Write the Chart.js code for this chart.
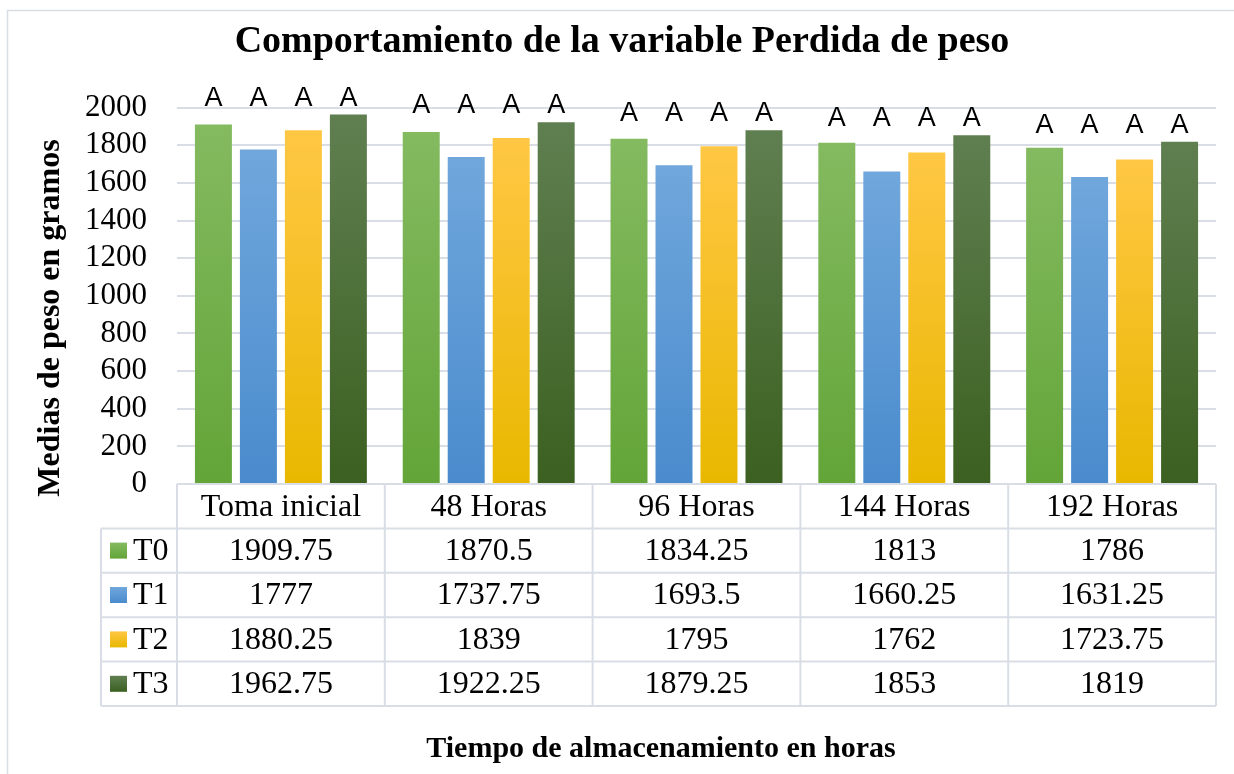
<!DOCTYPE html>
<html>
<head>
<meta charset="utf-8">
<script src="https://cdn.jsdelivr.net/npm/chart.js@4.4.0/dist/chart.umd.min.js"></script>
<style>
html,body{margin:0;padding:0;background:#fff;}
#wrap{width:1234px;height:774px;position:relative;}
</style>
</head>
<body>
<div id="wrap"><canvas id="c" width="1234" height="774"></canvas></div>
<script>
// ---- data ----
const categories = ['Toma inicial', '48 Horas', '96 Horas', '144 Horas', '192 Horas'];
const seriesNames = ['T0', 'T1', 'T2', 'T3'];
const T0 = [1909.75, 1870.5, 1834.25, 1813, 1786];
const T1 = [1777, 1737.75, 1693.5, 1660.25, 1631.25];
const T2 = [1880.25, 1839, 1795, 1762, 1723.75];
const T3 = [1962.75, 1922.25, 1879.25, 1853, 1819];
const groupLetters = [
  ['A', 'A', 'A', 'A'],
  ['A', 'A', 'A', 'A'],
  ['A', 'A', 'A', 'A'],
  ['A', 'A', 'A', 'A'],
  ['A', 'A', 'A', 'A']
];
const yMin = 0, yMax = 2000, yStep = 200;
const chartTitle = 'Comportamiento de la variable Perdida de peso';
const yTitle = 'Medias de peso en gramos';
const xTitle = 'Tiempo de almacenamiento en horas';

// ---- styles ----
const SERIF = '"Liberation Serif", "Times New Roman", serif';
const SANS = '"Liberation Sans", Arial, sans-serif';
const gradStops = [
  ['#84ba60', '#63a538'],
  ['#70a7dc', '#4a8bcd'],
  ['#ffc744', '#e8b800'],
  ['#607f51', '#3b6020']
];
const lineColor = '#d9dee6';

function barGradient(top, bottom) {
  return (c) => {
    const chart = c.chart;
    const ys = chart.scales && chart.scales.y;
    if (!ys || c.type !== 'data' || !chart.chartArea) return bottom;
    const yTop = ys.getPixelForValue(c.raw);
    const yBase = ys.getPixelForValue(0);
    if (!isFinite(yTop) || !isFinite(yBase)) return bottom;
    const g = chart.ctx.createLinearGradient(0, yTop, 0, yBase);
    g.addColorStop(0, top);
    g.addColorStop(1, bottom);
    return g;
  };
}

const seriesValues = [T0, T1, T2, T3];

const tablePlugin = {
  id: 'tablePlugin',
  beforeDraw(chart) {
    const ctx = chart.ctx;
    ctx.save();
    ctx.fillStyle = '#fff';
    ctx.fillRect(0, 0, chart.width, chart.height);
    ctx.strokeStyle = lineColor;
    ctx.lineWidth = 1.5;
    ctx.strokeRect(7.5, 10.5, chart.width + 20, chart.height + 20);
    ctx.restore();
  },
  afterDraw(chart) {
    const ctx = chart.ctx;
    const xs = chart.scales.x, ys = chart.scales.y;
    const area = chart.chartArea;
    const n = categories.length;
    const colW = (area.right - area.left) / n;

    // significance letters above each group
    ctx.save();
    ctx.font = '27px ' + SANS;
    ctx.fillStyle = '#000';
    ctx.textAlign = 'center';
    ctx.textBaseline = 'alphabetic';
    for (let i = 0; i < n; i++) {
      let mx = -Infinity;
      seriesValues.forEach(s => { mx = Math.max(mx, s[i]); });
      const yLab = ys.getPixelForValue(mx) - 9;
      chart.data.datasets.forEach((ds, d) => {
        const el = chart.getDatasetMeta(d).data[i];
        ctx.fillText(groupLetters[i][d], el.x, yLab);
      });
    }
    ctx.restore();

    // data table
    const rowH = 44.4;
    const top = area.bottom;
    const legendLeft = 101;
    const rows = seriesNames.length;
    const bottom = top + rowH * (rows + 1);
    ctx.save();
    ctx.strokeStyle = lineColor;
    ctx.lineWidth = 2;
    ctx.beginPath();
    for (let r = 1; r <= rows + 1; r++) {
      const y = top + r * rowH;
      ctx.moveTo(legendLeft, y);
      ctx.lineTo(area.right, y);
    }
    for (let i = 0; i <= n; i++) {
      const x = area.left + i * colW;
      ctx.moveTo(x, top);
      ctx.lineTo(x, bottom);
    }
    ctx.moveTo(legendLeft, top + rowH);
    ctx.lineTo(legendLeft, bottom);
    ctx.stroke();

    ctx.fillStyle = '#000';
    ctx.font = '32px ' + SERIF;
    ctx.textBaseline = 'middle';
    ctx.textAlign = 'center';
    for (let i = 0; i < n; i++) {
      const cx = xs.getPixelForValue(i);
      ctx.fillText(categories[i], cx, top + rowH / 2 + 1);
      for (let r = 0; r < rows; r++) {
        ctx.fillText(String(seriesValues[r][i]), cx, top + (r + 1.5) * rowH + 1);
      }
    }
    ctx.textAlign = 'left';
    for (let r = 0; r < rows; r++) {
      const cy = top + (r + 1.5) * rowH;
      const g = ctx.createLinearGradient(0, cy - 8, 0, cy + 8);
      g.addColorStop(0, gradStops[r][0]);
      g.addColorStop(1, gradStops[r][1]);
      ctx.fillStyle = g;
      ctx.fillRect(110, cy - 8, 17, 16);
      ctx.fillStyle = '#000';
      ctx.fillText(seriesNames[r], 133, cy + 1);
    }
    ctx.restore();

    // axis titles
    ctx.save();
    ctx.font = 'bold 32px ' + SERIF;
    ctx.fillStyle = '#000';
    ctx.textAlign = 'center';
    ctx.textBaseline = 'middle';
    ctx.translate(51, 318);
    ctx.rotate(-Math.PI / 2);
    ctx.fillText(yTitle, 0, 0);
    ctx.restore();

    ctx.save();
    ctx.font = 'bold 30px ' + SERIF;
    ctx.fillStyle = '#000';
    ctx.textAlign = 'center';
    ctx.textBaseline = 'middle';
    ctx.fillText(xTitle, 661, 749);
    ctx.restore();
  }
};

const datasets = seriesNames.map((name, d) => ({
  label: name,
  data: seriesValues[d],
  backgroundColor: barGradient(gradStops[d][0], gradStops[d][1]),
  borderWidth: 0,
  categoryPercentage: 0.866,
  barPercentage: 0.822
}));

new Chart(document.getElementById('c'), {
  type: 'bar',
  data: { labels: categories, datasets },
  options: {
    responsive: false,
    devicePixelRatio: 1,
    animation: false,
    events: [],
    layout: { padding: { left: 28, right: 18, top: 10, bottom: 0 } },
    plugins: {
      legend: { display: false },
      tooltip: { enabled: false },
      title: {
        display: true,
        text: chartTitle,
        color: '#000',
        font: { family: SERIF, size: 38, weight: 'bold', lineHeight: 1.2 },
        padding: { top: 9, bottom: 43 }
      }
    },
    scales: {
      x: {
        type: 'category',
        offset: true,
        grid: { display: false },
        border: { display: false },
        ticks: { display: false },
        title: { display: false },
        afterFit(scale) { scale.height = 290; }
      },
      y: {
        min: yMin,
        max: yMax,
        ticks: {
          stepSize: yStep,
          autoSkip: false,
          color: '#000',
          padding: 30,
          font: { family: SERIF, size: 31 },
          callback: (v) => String(v)
        },
        grid: { color: lineColor, lineWidth: 2, drawTicks: false },
        border: { display: false },
        afterFit(scale) { scale.width = 149; }
      }
    }
  },
  plugins: [tablePlugin]
});
</script>
</body>
</html>
